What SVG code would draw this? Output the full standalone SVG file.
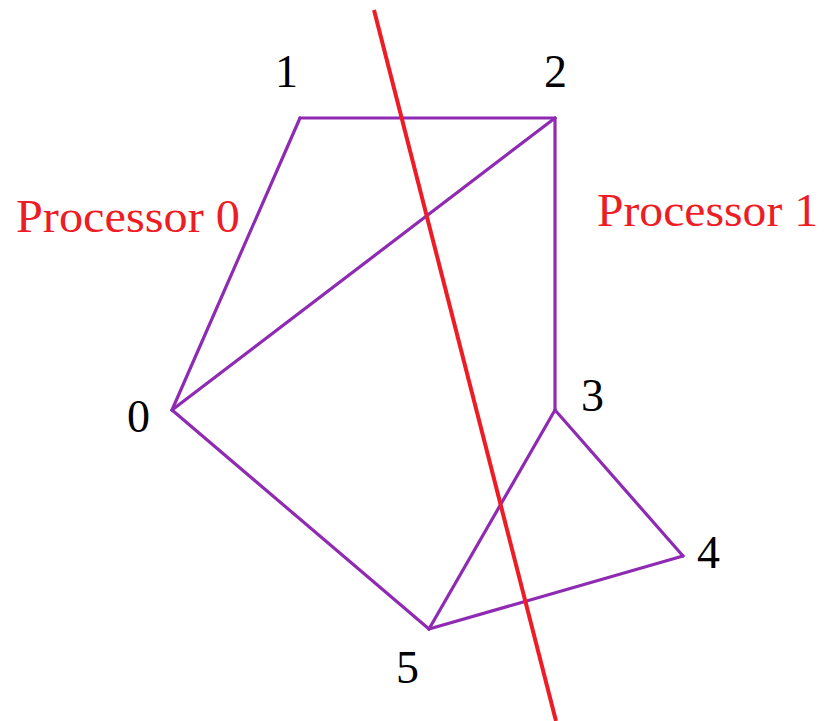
<svg xmlns="http://www.w3.org/2000/svg" width="830" height="721" viewBox="0 0 830 721">
<style>
.e{stroke:#8F2BB3;stroke-width:3.2;fill:none;stroke-linecap:round;stroke-linejoin:round}
.n{font-family:'Liberation Serif','Times New Roman','DejaVu Serif',serif;font-size:46px;fill:#000}
.p{font-family:'Liberation Serif','Times New Roman','DejaVu Serif',serif;font-size:47px;fill:#EE1C25}
</style>
<rect width="830" height="721" fill="#fff"/>
<g id="connectors">
<line class="e" x1="300" y1="118" x2="555" y2="118"/>
<line class="e" x1="300" y1="118" x2="172" y2="410"/>
<line class="e" x1="172" y1="410" x2="555" y2="118"/>
<line class="e" x1="555" y1="118" x2="555" y2="410"/>
<line class="e" x1="172" y1="410" x2="429" y2="629"/>
<line class="e" x1="555" y1="410" x2="429" y2="629"/>
<line class="e" x1="555" y1="410" x2="683" y2="556"/>
<line class="e" x1="683" y1="556" x2="429" y2="629"/>
</g>
<line id="cut" x1="374" y1="10" x2="556" y2="721" stroke="#EE1C25" stroke-width="4"/>
<g id="node0"><text class="n" x="127" y="432">0</text></g>
<g id="node1"><text class="n" x="275" y="87">1</text></g>
<g id="node2"><text class="n" x="544" y="87">2</text></g>
<g id="node3"><text class="n" x="581" y="411">3</text></g>
<g id="node4"><text class="n" x="697" y="568">4</text></g>
<g id="node5"><text class="n" x="396" y="683">5</text></g>
<text class="p" x="16" y="232" textLength="224" lengthAdjust="spacingAndGlyphs">Processor 0</text>
<text class="p" x="597" y="226" textLength="221" lengthAdjust="spacingAndGlyphs">Processor 1</text>
</svg>
